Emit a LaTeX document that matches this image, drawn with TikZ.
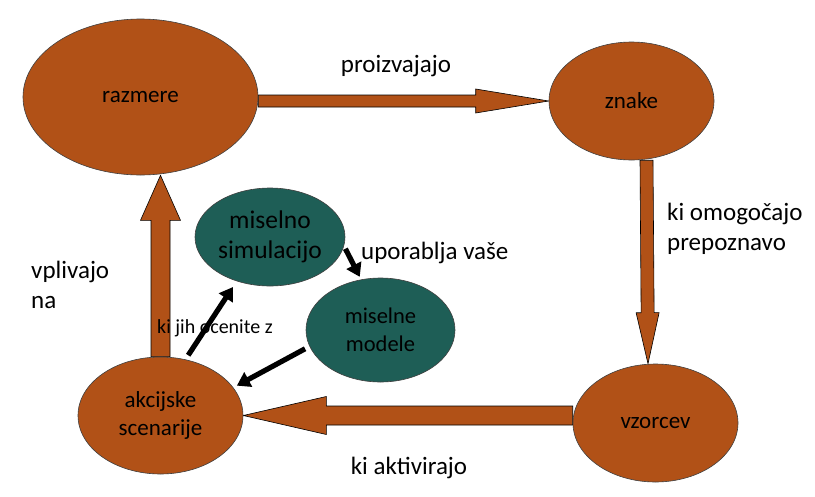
\documentclass[tikz,border=0pt]{standalone}
\usepackage{fontspec}
\setmainfont{Carlito}
\usetikzlibrary{shapes.geometric,arrows.meta,calc,backgrounds}

\definecolor{rust}{RGB}{177,81,23}
\definecolor{pine}{RGB}{30,94,86}

% fat block arrow: start, end, half shaft, half head, head length
\newcommand{\fatarrow}[5]{%
	\path ($(#2)!#5!(#1)$) coordinate (hb);
	\draw[fatarr] ($(#1)!#3!90:(#2)$) -- ($(hb)!#3!90:(#2)$) -- ($(hb)!#4!90:(#2)$) -- (#2)
		-- ($(hb)!#4!-90:(#2)$) -- ($(hb)!#3!-90:(#2)$) -- ($(#1)!#3!-90:(#2)$) -- cycle;
}

\begin{document}
\begin{tikzpicture}[x=1pt,y=-1pt,
	bubble/.style={ellipse, draw=black!75, line width=0.6pt, fill=rust, inner sep=0pt,
		align=center, font=\fontsize{23}{27.5}\selectfont},
	mindbubble/.style={bubble, fill=pine},
	fatarr/.style={draw=black, line width=0.6pt, fill=rust, line join=miter},
	pointer/.style={line width=5.2pt, -{Triangle[length=13pt,width=16pt]}},
	lbl/.style={inner sep=0pt, align=left, font=\fontsize{25}{30}\selectfont}]
	
	\useasboundingbox (0,0) rectangle (815,496);
	
	\node[bubble, minimum width=235pt, minimum height=156pt] (razmere) at (140.5,97) {razmere};
	\node[bubble, minimum width=165pt, minimum height=118pt] (znake) at (631.5,101) {znake};
	\node[bubble, minimum width=165pt, minimum height=118pt] (vzorcev) at (655.5,423) {vzorcev};
	\node[bubble, minimum width=165pt, minimum height=117pt] (akcije) at (160.5,415.5) {akcijske\\scenarije};
	
	\node[mindbubble, minimum width=150pt, minimum height=98pt, font=\fontsize{25.5}{30.5}\selectfont]
		(simulacija) at (270,237) {miselno\\simulacijo};
	\node[mindbubble, minimum width=149pt, minimum height=104pt, font=\fontsize{22.5}{28}\selectfont]
		(modeli) at (380.5,330) {miselne\\modele};
	
	% ends of the fat arrows
	\coordinate (t0) at (razmere.east |- znake.west);
	\coordinate (r0) at ([xshift=15pt]znake.south);
	\coordinate (r1) at ([xshift=-7.5pt]vzorcev.north);
	\coordinate (b0) at (vzorcev.west |- akcije.east);
	\coordinate (l1) at (razmere.south -| akcije.north);
	
	\begin{scope}[on background layer]
		\fill[white] (0,0) rectangle (815,496);
		\fatarrow{t0}{znake.west}{6pt}{12pt}{73pt}
		\fatarrow{r0}{r1}{6.5pt}{11.5pt}{51pt}
		\fatarrow{b0}{akcije.east}{9.5pt}{19pt}{83pt}
		\fatarrow{akcije.north}{l1}{9.5pt}{20pt}{45pt}
	\end{scope}
	
	\node[lbl, anchor=center] (proizv) at (396,66) {proizvajajo};
	\node[lbl, anchor=west] (omogoca) at (667,229) {ki omogočajo\\prepoznavo};
	\node[lbl, anchor=center] (aktiv) at (409,468) {ki aktivirajo};
	\node[lbl, anchor=west] (vpliva) at (31,285) {vplivajo\\na};
	\node[lbl, anchor=west] (uporaba) at (361,253) {uporablja vaše};
	\node[lbl, anchor=west, font=\fontsize{20}{24}\selectfont] (ocena) at (157,328) {ki jih ocenite z};
	
	\draw[pointer, shorten <=5pt, shorten >=7pt] (akcije.66) -- (simulacija.233.5);
	\draw[pointer, shorten <=3pt, shorten >=3pt] (simulacija.-7.4) -- (modeli.111);
	\draw[pointer, shorten <=5pt, shorten >=4pt] (modeli.193.4) -- (akcije.21.1);
\end{tikzpicture}
\end{document}
